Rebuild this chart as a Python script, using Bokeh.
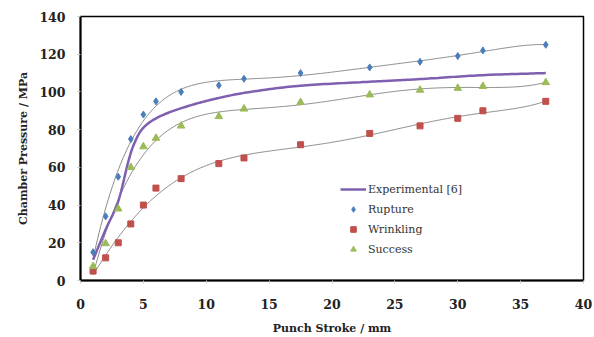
import numpy as np
from bokeh.plotting import figure
from bokeh.models import Range1d, Legend, LegendItem, FixedTicker
from bokeh.embed import file_html
from bokeh.resources import INLINE

# ---- data ----
exp_x = [1, 2, 3, 3.8, 4.3, 5, 6.3, 8.5, 11, 13.5, 17.5, 23, 27, 32, 37]
exp_y = [11, 27, 42, 63, 73, 81, 87, 92.4, 96.8, 100, 103.3, 105.4, 106.8, 108.9, 110]

rup_x = [1, 2, 3, 4, 5, 6, 8, 11, 13, 17.5, 23, 27, 30, 32, 37]
rup_y = [15, 34, 55, 75, 88, 95, 100, 103.5, 107, 110, 113, 116, 119, 122, 125]

wri_x = [1, 2, 3, 4, 5, 6, 8, 11, 13, 17.5, 23, 27, 30, 32, 37]
wri_y = [5, 12, 20, 30, 40, 49, 54, 62, 65, 72, 78, 82, 86, 90, 95]

suc_x = [1, 2, 3, 4, 5, 6, 8, 11, 13, 17.5, 23, 27, 30, 32, 37]
suc_y = [7.5, 19.6, 38, 60, 71, 75.5, 82, 87, 91, 94.5, 98.5, 101, 102, 103, 105]

x_ticks = [0, 5, 10, 15, 20, 25, 30, 35, 40]
y_ticks = [0, 20, 40, 60, 80, 100, 120, 140]

FONT = "DejaVu Serif"


def catmull_rom(xs, ys, n=20):
    xs = np.asarray(xs, float); ys = np.asarray(ys, float)
    px = np.concatenate([[2 * xs[0] - xs[1]], xs, [2 * xs[-1] - xs[-2]]])
    py = np.concatenate([[2 * ys[0] - ys[1]], ys, [2 * ys[-1] - ys[-2]]])
    ox, oy = [], []
    for i in range(1, len(px) - 2):
        t = np.linspace(0, 1, n, endpoint=False)
        for arr, out in ((px, ox), (py, oy)):
            p0, p1, p2, p3 = arr[i - 1], arr[i], arr[i + 1], arr[i + 2]
            out.extend(0.5 * ((2 * p1) + (-p0 + p2) * t + (2 * p0 - 5 * p1 + 4 * p2 - p3) * t ** 2
                              + (-p0 + 3 * p1 - 3 * p2 + p3) * t ** 3))
    ox.append(xs[-1]); oy.append(ys[-1])
    return ox, oy


def trend(xs, ys, deg=6):
    xs = np.asarray(xs, float); ys = np.asarray(ys, float)
    c = np.polyfit(xs, ys, deg)
    tx = np.linspace(xs[0], xs[-1], 300)
    return tx, np.polyval(c, tx)


p = figure(width=594, height=337, output_backend="svg", toolbar_location=None,
           x_range=Range1d(0, 40), y_range=Range1d(0, 140),
           min_border_left=80, min_border_right=11, min_border_top=16, min_border_bottom=54)
p.xgrid.visible = False
p.ygrid.visible = False
p.outline_line_color = "black"
p.outline_line_width = 1.5
p.background_fill_color = "white"
p.border_fill_color = "white"

for ax in (p.xaxis[0], p.yaxis[0]):
    ax.axis_line_color = "black"
    ax.axis_line_width = 2
    ax.major_tick_line_color = "#c8c8c8"
    ax.major_tick_in = 0
    ax.major_tick_out = 3
    ax.minor_tick_line_color = None
    ax.major_label_text_font = FONT
    ax.major_label_text_font_style = "bold"
    ax.major_label_text_font_size = "12.5px"
    ax.major_label_text_color = "#222222"
    ax.axis_label_text_font = FONT
    ax.axis_label_text_font_style = "bold"
    ax.axis_label_text_font_size = "11px"
    ax.axis_label_text_color = "#222222"

p.xaxis.ticker = FixedTicker(ticks=x_ticks)
p.yaxis.ticker = FixedTicker(ticks=y_ticks)
p.xaxis.axis_label = "Punch Stroke / mm"
p.yaxis.axis_label = "Chamber Pressure / MPa"
p.xaxis.major_label_standoff = 15
p.xaxis.axis_label_standoff = 10
p.yaxis.major_label_standoff = 12
p.yaxis.axis_label_standoff = 6

# trend lines
for xs, ys in ((rup_x, rup_y), (wri_x, wri_y), (suc_x, suc_y)):
    tx, ty = trend(xs, ys)
    p.line(tx, ty, line_color="#8a8a8a", line_width=1)

ex, ey = catmull_rom(exp_x, exp_y)
r_exp = p.line(ex, ey, line_color="#7F5FAF", line_width=2.5)
r_rup = p.scatter(rup_x, rup_y, marker="diamond", size=7, color="#4A7EBB")
r_wri = p.scatter(wri_x, wri_y, marker="square", size=6, color="#C0504D")
r_suc = p.scatter(suc_x, suc_y, marker="triangle", size=7.5, color="#9BBB59")

legend = Legend(items=[
    LegendItem(label="Experimental [6]", renderers=[r_exp]),
    LegendItem(label="Rupture", renderers=[r_rup]),
    LegendItem(label="Wrinkling", renderers=[r_wri]),
    LegendItem(label="Success", renderers=[r_suc]),
], location=(260, 24))
legend.border_line_color = None
legend.background_fill_alpha = 0
legend.padding = 0
legend.margin = 0
legend.spacing = 6
legend.label_height = 14
legend.glyph_height = 14
legend.glyph_width = 26
legend.label_standoff = 2
legend.label_text_font = FONT
legend.label_text_font_size = "11px"
legend.label_text_color = "#333333"
p.add_layout(legend, "center")

open("out.html", "w").write(file_html(p, INLINE))
